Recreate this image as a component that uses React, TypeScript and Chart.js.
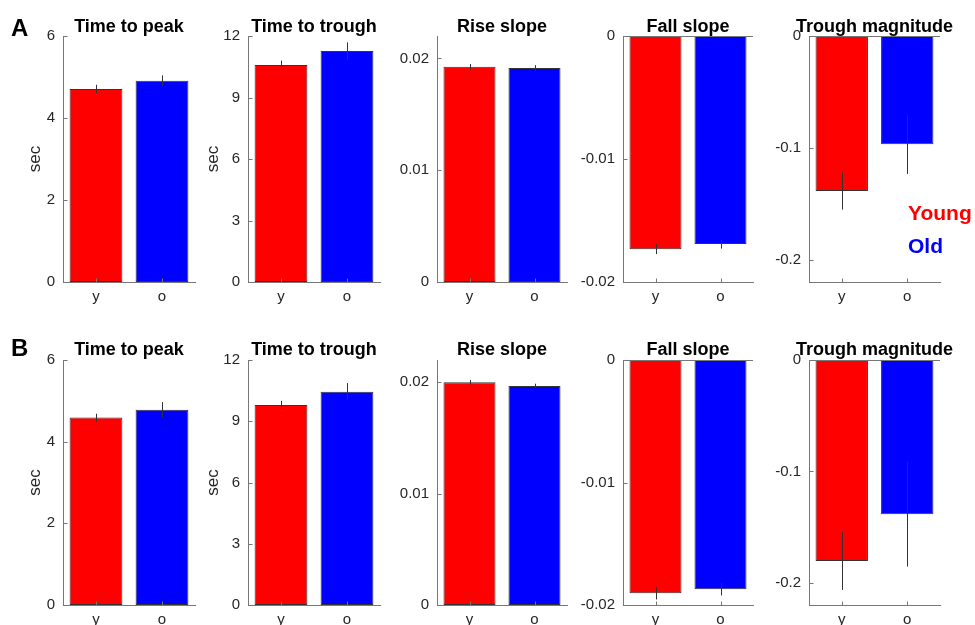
import React, { useEffect, useRef } from 'react';
import { Chart, registerables } from 'chart.js';

Chart.register(...registerables);

// ---------- data ----------
const GROUPS = ['y', 'o'];
const GROUP_COLORS = ['#ff0000', '#0000ff'];
const LEGEND_LABELS = ['Young', 'Old'];
const PANEL_TITLES = ['Time to peak', 'Time to trough', 'Rise slope', 'Fall slope', 'Trough magnitude'];
const ROW_LETTERS = ['A', 'B'];
const Y_LABELS = ['sec', 'sec', '', '', ''];

const Y_MIN = [0, 0, 0, -0.02, -0.22];
const Y_MAX = [6, 12, 0.022, 0, 0];
const TICKS_PEAK = [0, 2, 4, 6];
const TICKS_TROUGH_TIME = [0, 3, 6, 9, 12];
const TICKS_RISE = [0, 0.01, 0.02];
const TICKS_FALL = [-0.02, -0.01, 0];
const TICKS_MAG = [-0.2, -0.1, 0];
const Y_TICKS = [TICKS_PEAK, TICKS_TROUGH_TIME, TICKS_RISE, TICKS_FALL, TICKS_MAG];

// Row A
const peakA = [4.71, 4.91];
const peakErrA = [0.1, 0.13];
const troughTimeA = [10.59, 11.27];
const troughTimeErrA = [0.21, 0.42];
const riseA = [0.01925, 0.01914];
const riseErrA = [0.00025, 0.00025];
const fallA = [-0.01733, -0.01692];
const fallErrA = [0.0004, 0.00037];
const magA = [-0.1387, -0.0967];
const magErrA = [0.0165, 0.0267];

// Row B
const peakB = [4.59, 4.78];
const peakErrB = [0.094, 0.19];
const troughTimeB = [9.8, 10.45];
const troughTimeErrB = [0.2, 0.42];
const riseB = [0.02, 0.01967];
const riseErrB = [0.0002, 0.0002];
const fallB = [-0.01905, -0.01872];
const fallErrB = [0.0005, 0.0005];
const magB = [-0.1805, -0.1385];
const magErrB = [0.026, 0.047];

const ROW_MEANS = [
  [peakA, troughTimeA, riseA, fallA, magA],
  [peakB, troughTimeB, riseB, fallB, magB],
];
const ROW_ERRS = [
  [peakErrA, troughTimeErrA, riseErrA, fallErrA, magErrA],
  [peakErrB, troughTimeErrB, riseErrB, fallErrB, magErrB],
];

// ---------- layout ----------
const FONT = '"Liberation Sans", Arial, Helvetica, sans-serif';
const AXIS_COLOR = '#777777';
const TEXT_COLOR = '#262626';
const COL_LEFT = [0, 200, 390, 577, 760];
const COL_WIDTH = [200, 190, 187, 183, 215];
const CHART_LEFT = [63, 48, 47, 46, 49];
const PAD_RIGHT = [5, 10, 10, 7, 35];
const YTITLE_X = [35, 13, 0, 0, 0];
const ROW_TOP = [0, 312];
const ROW_HEIGHT = [312, 313];
const CHART_TOP = [36, 48];
const CHART_BOTTOM = [282, 293];
const TITLE_GAP = [4, 5];
const LETTER_BASE = [36, 44];

function fmt(v: number) {
  return String(Number(v.toFixed(4)));
}

function Panel({ row, col }: { row: number; col: number }) {
  const ref = useRef<HTMLCanvasElement | null>(null);
  useEffect(() => {
    const canvas = ref.current;
    if (!canvas) return;
    const means = ROW_MEANS[row][col];
    const errs = ROW_ERRS[row][col];
    const ticks = Y_TICKS[col];
    const height = ROW_HEIGHT[row];

    const decor = {
      id: 'decor',
      afterDraw(chart: any) {
        const { ctx, chartArea: ca, scales } = chart;
        const x = scales.x;
        const y = scales.y;
        const line = (x1: number, y1: number, x2: number, y2: number) => {
          ctx.beginPath();
          ctx.moveTo(x1, y1);
          ctx.lineTo(x2, y2);
          ctx.stroke();
        };
        ctx.save();
        ctx.lineWidth = 1;
        ctx.strokeStyle = AXIS_COLOR;
        // baseline at zero
        const y0 = Math.round(y.getPixelForValue(0)) + 0.5;
        line(ca.left, y0, ca.right, y0);
        // inward ticks
        const left = Math.round(ca.left) + 0.5;
        ticks.forEach((v: number) => {
          const py = Math.round(y.getPixelForValue(v)) + 0.5;
          line(left, py, left + 4, py);
        });
        const bottom = Math.round(ca.bottom) + 0.5;
        GROUPS.forEach((_, i) => {
          const px = Math.round(x.getPixelForValue(i)) + 0.5;
          line(px, bottom, px, bottom - 4);
        });
        // error bars
        ctx.strokeStyle = '#333333';
        means.forEach((m: number, i: number) => {
          const px = Math.round(x.getPixelForValue(i)) + 0.5;
          line(px, y.getPixelForValue(m + errs[i]), px, y.getPixelForValue(m - errs[i]));
        });
        // panel title
        ctx.fillStyle = '#000000';
        ctx.font = `bold 18px ${FONT}`;
        ctx.textAlign = 'center';
        ctx.textBaseline = 'alphabetic';
        ctx.fillText(PANEL_TITLES[col], (ca.left + ca.right) / 2, ca.top - TITLE_GAP[row]);
        // row letter
        if (col === 0) {
          ctx.font = `bold 24px ${FONT}`;
          ctx.textAlign = 'left';
          ctx.fillText(ROW_LETTERS[row], 11, LETTER_BASE[row]);
        }
        // legend
        if (row === 0 && col === 4) {
          ctx.font = `bold 21px ${FONT}`;
          ctx.textAlign = 'left';
          LEGEND_LABELS.forEach((lab, i) => {
            ctx.fillStyle = GROUP_COLORS[i];
            ctx.fillText(lab, ca.right - 32, 220 + i * 33);
          });
        }
        ctx.restore();
      },
    };

    const chart = new Chart(canvas, {
      type: 'bar',
      data: {
        labels: GROUPS,
        datasets: [
          {
            data: means,
            backgroundColor: GROUP_COLORS,
            borderColor: '#333333',
            borderWidth: 1,
            borderSkipped: false,
            barPercentage: 0.8,
            categoryPercentage: 1,
          },
        ],
      },
      options: {
        responsive: false,
        animation: false,
        devicePixelRatio: 1,
        layout: {
          padding: { top: CHART_TOP[row], left: 0, right: PAD_RIGHT[col], bottom: 0 },
        },
        plugins: {
          legend: { display: false },
          tooltip: { enabled: false },
        },
        scales: {
          x: {
            type: 'category',
            offset: true,
            grid: { display: false, drawTicks: false },
            border: { display: true, color: AXIS_COLOR, width: 1 },
            ticks: {
              color: TEXT_COLOR,
              padding: 6,
              font: { family: FONT, size: 15 },
              maxRotation: 0,
            },
            afterFit: (scale: any) => {
              scale.height = height - CHART_BOTTOM[row];
            },
          },
          y: {
            type: 'linear',
            min: Y_MIN[col],
            max: Y_MAX[col],
            grid: { display: false, drawTicks: false },
            border: { display: true, color: AXIS_COLOR, width: 1 },
            afterBuildTicks: (scale: any) => {
              scale.ticks = ticks.map((v: number) => ({ value: v }));
            },
            ticks: {
              color: TEXT_COLOR,
              padding: 8,
              font: { family: FONT, size: 15 },
              callback: (v: any) => fmt(Number(v)),
            },
            title: {
              display: Y_LABELS[col] !== '',
              text: Y_LABELS[col],
              color: TEXT_COLOR,
              font: { family: FONT, size: 17 },
              padding: { top: Math.max(0, YTITLE_X[col] - 10.2), bottom: 0 },
            },
            afterFit: (scale: any) => {
              scale.width = CHART_LEFT[col];
            },
          },
        },
      },
      plugins: [decor],
    } as any);
    return () => chart.destroy();
  }, [row, col]);

  return (
    <canvas
      ref={ref}
      width={COL_WIDTH[col]}
      height={ROW_HEIGHT[row]}
      style={{
        position: 'absolute',
        left: COL_LEFT[col],
        top: ROW_TOP[row],
        width: COL_WIDTH[col],
        height: ROW_HEIGHT[row],
      }}
    />
  );
}

export default function App() {
  useEffect(() => {
    document.body.style.margin = '0';
    document.body.style.background = '#ffffff';
  }, []);
  return (
    <div style={{ position: 'absolute', left: 0, top: 0, width: 975, height: 625, background: '#fff', overflow: 'hidden' }}>
      {[0, 1].map((r) => [0, 1, 2, 3, 4].map((c) => <Panel key={`${r}-${c}`} row={r} col={c} />))}
    </div>
  );
}
